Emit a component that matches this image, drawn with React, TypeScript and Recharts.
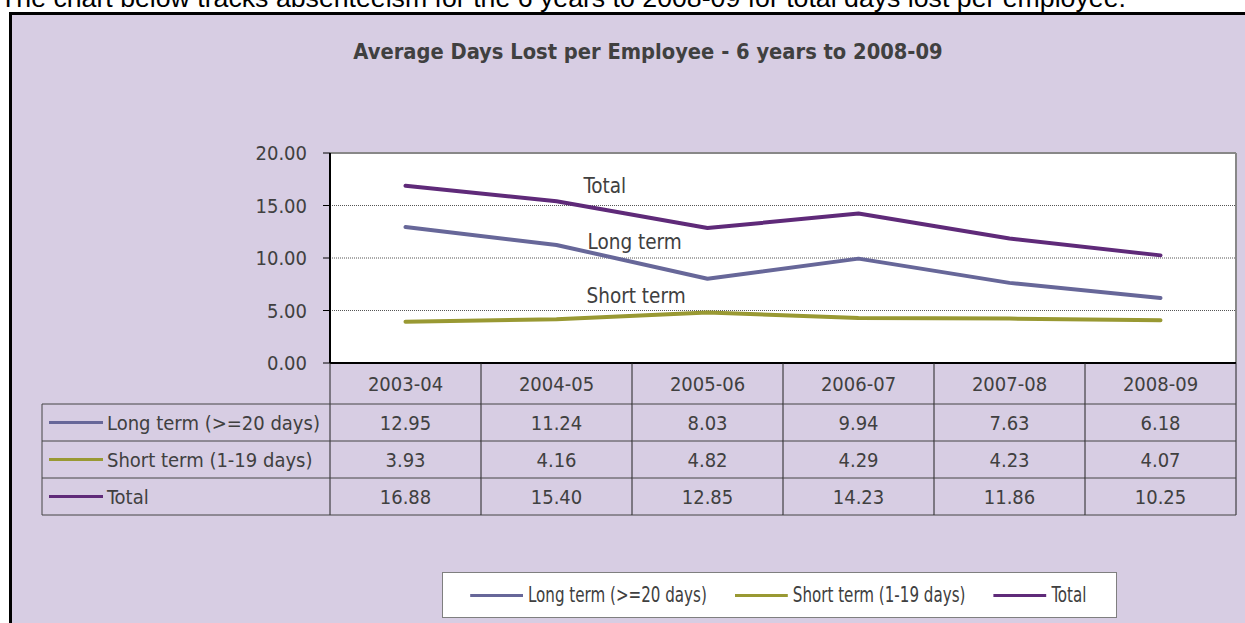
import { LineChart, Line, XAxis, YAxis, CartesianGrid, LabelList, Legend } from 'recharts'

const categories = ['2003-04', '2004-05', '2005-06', '2006-07', '2007-08', '2008-09']
const longTerm = [12.95, 11.24, 8.03, 9.94, 7.63, 6.18]
const shortTerm = [3.93, 4.16, 4.82, 4.29, 4.23, 4.07]
const total = [16.88, 15.4, 12.85, 14.23, 11.86, 10.25]
const yTicks = [0, 5, 10, 15, 20]

const seriesNames = ['Long term (>=20 days)', 'Short term (1-19 days)', 'Total']
const inlineNames = ['Long term', 'Short term', 'Total']

const data = categories.map((year, i) => ({
  year,
  longTerm: longTerm[i],
  shortTerm: shortTerm[i],
  total: total[i],
}))

// styling per series (colours + where the inline label sits next to the 2004-05 point)
const SERIES = [
  { key: 'longTerm', values: longTerm, color: '#676799', dx: 31, dy: -3 },
  { key: 'shortTerm', values: shortTerm, color: '#999933', dx: 30, dy: -23 },
  { key: 'total', values: total, color: '#5f2a79', dx: 27, dy: -15 },
]
const LABEL_AT = 1

const FONT = '"DejaVu Sans Condensed", "DejaVu Sans", sans-serif'
const TEXT = '#404040'

const W = 1233
const H = 608
const PLOT_W = 906
const COL_W = PLOT_W / categories.length
const HEAD_H = 41
const ROW_H = 37
const LABEL_COL_W = 288
const YAXIS_W = 90
const XAXIS_H = 152
const LEGEND_SQUEEZE = 0.8

function TableTick(props: any) {
  const { x, y, payload } = props
  const i = payload?.index ?? props.index
  const left = x - COL_W / 2
  const right = x + COL_W / 2
  const bottom = y + HEAD_H + ROW_H * SERIES.length
  const labLeft = left - LABEL_COL_W
  return (
    <g>
      <line x1={left} x2={left} y1={y} y2={bottom} stroke="#222" />
      {i === categories.length - 1 && <line x1={right} x2={right} y1={y} y2={bottom} stroke="#222" />}
      <text x={x} y={y + HEAD_H / 2} textAnchor="middle" dominantBaseline="central" fontSize={20} fill={TEXT}>
        {payload.value}
      </text>
      {SERIES.map((s, r) => {
        const top = y + HEAD_H + r * ROW_H
        return (
          <g key={s.key}>
            <line x1={left} x2={right} y1={top} y2={top} stroke="#444" />
            <text x={x} y={top + ROW_H / 2} textAnchor="middle" dominantBaseline="central" fontSize={20} fill={TEXT}>
              {s.values[i].toFixed(2)}
            </text>
          </g>
        )
      })}
      <line x1={left} x2={right} y1={bottom} y2={bottom} stroke="#444" />
      {i === 0 && (
        <g>
          <line x1={labLeft} x2={labLeft} y1={y + HEAD_H} y2={bottom} stroke="#444" />
          {SERIES.map((s, r) => {
            const top = y + HEAD_H + r * ROW_H
            return (
              <g key={s.key}>
                <line x1={labLeft} x2={left} y1={top} y2={top} stroke="#444" />
                <line x1={labLeft + 7} x2={labLeft + 61} y1={top + ROW_H / 2} y2={top + ROW_H / 2} stroke={s.color} strokeWidth={3} />
                <text x={labLeft + 65} y={top + ROW_H / 2} dominantBaseline="central" fontSize={20} fill={TEXT}>
                  {seriesNames[r]}
                </text>
              </g>
            )
          })}
          <line x1={labLeft} x2={left} y1={bottom} y2={bottom} stroke="#444" />
        </g>
      )}
    </g>
  )
}

function inlineLabel(r: number) {
  const s = SERIES[r]
  return (p: any) => {
    if (p.index !== LABEL_AT) return null
    const px = p.viewBox?.x ?? p.x
    const py = p.viewBox?.y ?? p.y
    return (
      <text x={px + s.dx} y={py + s.dy} dominantBaseline="central" fontSize={20.5} fill={TEXT} fontFamily={FONT}>
        {inlineNames[r]}
      </text>
    )
  }
}

function LegendBox(props: any) {
  const items = props.payload ?? []
  const k = LEGEND_SQUEEZE
  return (
    <div
      style={{
        boxSizing: 'border-box',
        width: 675,
        height: 46,
        background: '#fff',
        border: '1px solid #7f7f7f',
        overflow: 'hidden',
      }}
    >
      <div
        style={{
          height: '100%',
          display: 'flex',
          alignItems: 'center',
          paddingLeft: 27 / k,
          gap: 28 / k,
          fontFamily: FONT,
          fontSize: 21,
          color: TEXT,
          whiteSpace: 'nowrap',
          transform: `scaleX(${k})`,
          transformOrigin: 'left center',
        }}
      >
        {items.map((it: any) => (
          <div key={it.value} style={{ display: 'flex', alignItems: 'center' }}>
            <span style={{ display: 'inline-block', width: 53 / k, height: 3, background: it.color, marginRight: 5 / k }} />
            <span>{it.value}</span>
          </div>
        ))}
      </div>
    </div>
  )
}

export default function App() {
  return (
    <div style={{ position: 'absolute', left: 0, top: 0, width: 1245, height: 623, overflow: 'hidden', background: '#fff' }}>
      <div
        style={{
          position: 'absolute',
          left: 0,
          top: -15,
          fontFamily: '"Liberation Sans", Arial, sans-serif',
          fontSize: 26.7,
          lineHeight: '26.7px',
          whiteSpace: 'nowrap',
          color: '#000',
        }}
      >
        The chart below tracks absenteeism for the 6 years to 2008-09 for total days lost per employee.
      </div>
      <div
        style={{
          position: 'absolute',
          left: 9,
          top: 12,
          width: 1250,
          height: 620,
          background: '#d7cde3',
          borderLeft: '3px solid #000',
          borderTop: '3px solid #000',
        }}
      />
      <div
        style={{
          position: 'absolute',
          left: 148,
          top: 41,
          width: 1000,
          textAlign: 'center',
          fontFamily: FONT,
          fontWeight: 'bold',
          fontSize: 21.7,
          lineHeight: '21.7px',
          color: TEXT,
        }}
      >
        Average Days Lost per Employee - 6 years to 2008-09
      </div>
      <div style={{ position: 'absolute', left: 12, top: 15, fontFamily: FONT }}>
        <LineChart
          width={W}
          height={H}
          data={data}
          margin={{ top: 138, right: 9, bottom: 260 - XAXIS_H, left: 318 - YAXIS_W }}
        >
          <CartesianGrid vertical={false} fill="#fff" stroke="#555" strokeDasharray="1 1" />
          {/* grey frame on the top and right of the plot */}
          <CartesianGrid
            stroke="#888"
            strokeWidth={2}
            horizontalCoordinatesGenerator={({ offset }: any) => [offset.top]}
            verticalCoordinatesGenerator={({ offset }: any) => [offset.left + offset.width]}
          />
          <XAxis
            dataKey="year"
            height={XAXIS_H}
            padding={{ left: COL_W / 2, right: COL_W / 2 }}
            interval={0}
            tickSize={0}
            tickMargin={0}
            tickLine={false}
            axisLine={{ stroke: '#000', strokeWidth: 2 }}
            tick={<TableTick />}
          />
          <YAxis
            type="number"
            domain={[0, 20]}
            ticks={yTicks}
            width={YAXIS_W}
            tickFormatter={(v: number) => v.toFixed(2)}
            tick={{ fill: TEXT, fontSize: 20, fontFamily: FONT }}
            tickSize={7}
            tickMargin={16}
            tickLine={{ stroke: '#000' }}
            axisLine={{ stroke: '#000', strokeWidth: 2 }}
          />
          {SERIES.map((s, r) => (
            <Line
              key={s.key}
              type="linear"
              dataKey={s.key}
              name={seriesNames[r]}
              stroke={s.color}
              strokeWidth={4}
              strokeLinecap="round"
              strokeLinejoin="round"
              dot={false}
              activeDot={false}
              isAnimationActive={false}
            >
              <LabelList dataKey={s.key} content={inlineLabel(r)} />
            </Line>
          ))}
          <Legend
            layout="horizontal"
            verticalAlign="middle"
            align="center"
            wrapperStyle={{ left: 430, top: 557, width: 675, height: 46 }}
            content={<LegendBox />}
          />
        </LineChart>
      </div>
    </div>
  )
}
